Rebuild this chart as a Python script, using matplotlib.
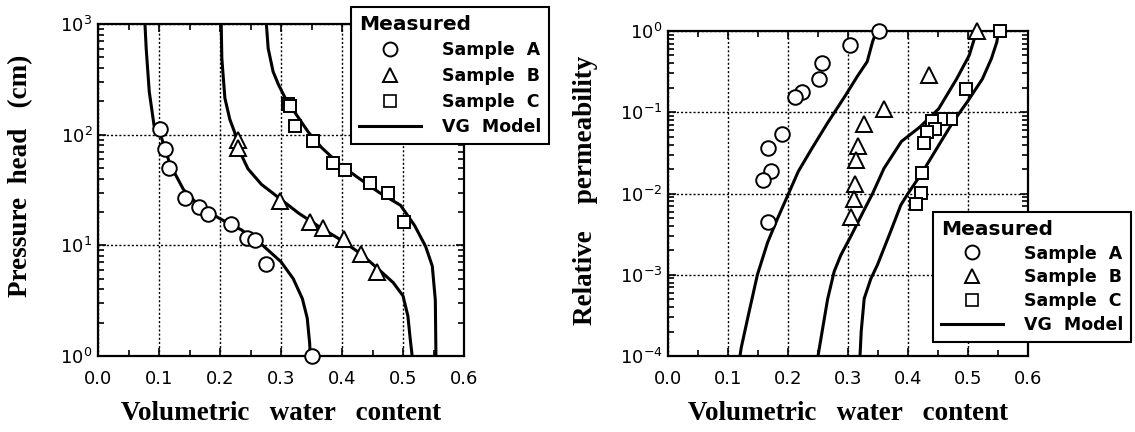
import numpy as np
import matplotlib
matplotlib.use("Agg")
import matplotlib.pyplot as plt
from matplotlib.lines import Line2D
from matplotlib.font_manager import FontProperties
from matplotlib.ticker import MultipleLocator, FormatStrFormatter, LogLocator

plt.rcParams['font.family'] = ['DejaVu Sans']
plt.rcParams['mathtext.default'] = 'regular'

# ---------------- Data: water retention (left) ----------------
ret_theta_A = [0.102, 0.110, 0.116, 0.143, 0.166, 0.181, 0.218, 0.245, 0.258, 0.276, 0.350]
ret_h_A = [112, 74, 50, 27, 22, 19, 15.6, 11.6, 11.1, 6.8, 1.0]
ret_theta_B = [0.229, 0.229, 0.298, 0.347, 0.369, 0.403, 0.431, 0.458]
ret_h_B = [90, 75, 25, 16.4, 14.4, 11.4, 8.4, 5.8]
ret_theta_C = [0.311, 0.315, 0.323, 0.353, 0.386, 0.405, 0.446, 0.475, 0.501]
ret_h_C = [188, 180, 120, 88, 55, 47.5, 36.7, 29.8, 16.2]

vg_ret_theta_A = [0.077, 0.079, 0.084, 0.092, 0.103, 0.118, 0.140, 0.167, 0.200, 0.235,
                  0.270, 0.300, 0.320, 0.335, 0.343, 0.347, 0.348]
vg_ret_h_A = [1000, 600, 245, 120, 98, 54, 32, 22.4, 17.4, 13.8, 10, 7.1, 5.0, 3.3, 2.2, 1.3, 1.0]
vg_ret_theta_B = [0.202, 0.203, 0.208, 0.216, 0.224, 0.232, 0.246, 0.268, 0.296, 0.329,
                  0.362, 0.398, 0.432, 0.461, 0.484, 0.500, 0.508, 0.512, 0.515]
vg_ret_h_B = [1000, 490, 214, 138, 105, 71, 49, 35.5, 27, 19.5, 14.8, 11.2, 8.3, 6.0, 4.6,
              3.5, 2.3, 1.4, 1.0]
vg_ret_theta_C = [0.276, 0.279, 0.287, 0.296, 0.307, 0.323, 0.345, 0.367, 0.396, 0.426,
                  0.461, 0.496, 0.519, 0.537, 0.548, 0.553, 0.554]
vg_ret_h_C = [1000, 600, 372, 282, 214, 158, 105, 76, 54, 41, 30, 23, 15.1, 9.8, 6.5, 3.2, 1.0]

# ---------------- Data: relative permeability (right) ----------------
kr_theta_A = [0.352, 0.303, 0.257, 0.251, 0.224, 0.212, 0.190, 0.167, 0.172, 0.159, 0.166]
kr_A = [1.0, 0.68, 0.40, 0.26, 0.18, 0.153, 0.054, 0.036, 0.019, 0.0148, 0.0045]
kr_theta_B = [0.515, 0.435, 0.360, 0.326, 0.317, 0.314, 0.311, 0.310, 0.305]
kr_B = [1.0, 0.29, 0.11, 0.072, 0.038, 0.026, 0.013, 0.0086, 0.0051]
kr_theta_C = [0.553, 0.496, 0.471, 0.455, 0.440, 0.445, 0.432, 0.426, 0.423, 0.422, 0.413]
kr_C = [1.0, 0.195, 0.082, 0.083, 0.077, 0.062, 0.057, 0.042, 0.018, 0.0101, 0.0075]

vg_kr_theta_A = [0.345, 0.341, 0.332, 0.316, 0.296, 0.266, 0.239, 0.217, 0.201, 0.183,
                 0.166, 0.149, 0.134, 0.122, 0.120]
vg_kr_A = [0.89, 0.74, 0.42, 0.28, 0.162, 0.074, 0.035, 0.0186, 0.010, 0.0050,
           0.0025, 0.0010, 0.00032, 0.000126, 0.0001]
vg_kr_theta_B = [0.250, 0.258, 0.266, 0.277, 0.288, 0.305, 0.327, 0.341, 0.360, 0.389,
                 0.420, 0.451, 0.481, 0.502, 0.512, 0.515]
vg_kr_B = [0.0001, 0.000224, 0.0005, 0.0011, 0.00174, 0.0030, 0.0063, 0.0100, 0.0204,
           0.0437, 0.066, 0.11, 0.257, 0.50, 0.87, 1.0]
vg_kr_theta_C = [0.320, 0.322, 0.327, 0.338, 0.349, 0.371, 0.388, 0.400, 0.423, 0.451,
                 0.475, 0.499, 0.524, 0.539, 0.548, 0.551]
vg_kr_C = [0.0001, 0.0002, 0.00051, 0.00089, 0.00132, 0.0034, 0.0072, 0.010, 0.0178,
           0.039, 0.076, 0.135, 0.257, 0.457, 0.73, 1.0]

x_ticks = [0.0, 0.1, 0.2, 0.3, 0.4, 0.5, 0.6]
legend_labels = ['Sample  A', 'Sample  B', 'Sample  C', 'VG  Model']
legend_title = 'Measured'

# ---------------- Figure ----------------
W, H = 1135, 432
fig = plt.figure(figsize=(W / 100, H / 100), dpi=100)
ax1 = fig.add_axes([98 / W, 1 - 356 / H, 366 / W, 332 / H])
ax2 = fig.add_axes([668 / W, 1 - 356 / H, 360 / W, 325 / H])

mk = dict(ls='none', mfc='white', mec='black', mew=1.4, clip_on=False, zorder=5)
line_kw = dict(color='black', lw=2.2, zorder=4, solid_capstyle='butt', solid_joinstyle='round')

# left
ax1.plot(vg_ret_theta_A, vg_ret_h_A, **line_kw)
ax1.plot(vg_ret_theta_B, vg_ret_h_B, **line_kw)
ax1.plot(vg_ret_theta_C, vg_ret_h_C, **line_kw)
ax1.plot(ret_theta_A, ret_h_A, marker='o', ms=10.5, **mk)
ax1.plot(ret_theta_B, ret_h_B, marker='^', ms=11, **mk)
ax1.plot(ret_theta_C, ret_h_C, marker='s', ms=9, **mk)
ax1.set_yscale('log')
ax1.set_ylim(1, 1000)

# right
ax2.plot(vg_kr_theta_A, vg_kr_A, **line_kw)
ax2.plot(vg_kr_theta_B, vg_kr_B, **line_kw)
ax2.plot(vg_kr_theta_C, vg_kr_C, **line_kw)
ax2.plot(kr_theta_A, kr_A, marker='o', ms=10.5, **mk)
ax2.plot(kr_theta_B, kr_B, marker='^', ms=11, **mk)
ax2.plot(kr_theta_C, kr_C, marker='s', ms=9, **mk)
ax2.set_yscale('log')
ax2.set_ylim(1e-4, 1)

serif_lab = FontProperties(family='Liberation Serif', weight='bold', size=19.5)

for ax in (ax1, ax2):
    ax.set_xlim(0, 0.6)
    ax.set_xticks(x_ticks)
    ax.xaxis.set_major_formatter(FormatStrFormatter('%.1f'))
    ax.xaxis.set_minor_locator(MultipleLocator(0.05))
    ax.yaxis.set_minor_locator(LogLocator(base=10, subs=np.arange(2, 10), numticks=20))
    ax.yaxis.set_major_locator(LogLocator(base=10, numticks=20))
    ax.grid(True, which='major', ls=(0, (1.5, 1.5)), color='black', lw=1.0)
    ax.tick_params(which='both', direction='in', top=True, right=True, width=1.2, colors='black')
    ax.tick_params(which='major', length=6, labelsize=13)
    ax.tick_params(which='minor', length=4)
    ax.tick_params(axis='x', which='major', pad=10)
    ax.tick_params(axis='y', which='major', pad=4)
    for s in ax.spines.values():
        s.set_linewidth(1.6)
    ax.set_axisbelow(True)

ax1.set_xlabel('Volumetric   water   content', fontproperties=serif_lab)
ax1.set_ylabel('Pressure  head   (cm)', fontproperties=serif_lab)
ax2.set_xlabel('Volumetric   water   content', fontproperties=serif_lab)
ax2.set_ylabel('Relative    permeability', fontproperties=serif_lab)

ax1.xaxis.set_label_coords(0.5, (356 - 413) / 332)
ax1.xaxis.label.set_va('center')
ax2.xaxis.set_label_coords(0.5, (356 - 413) / 325)
ax2.xaxis.label.set_va('center')
ax1.yaxis.set_label_coords((21 - 98) / 366, (356 - 176) / 332)
ax1.yaxis.label.set_va('center')
ax2.yaxis.set_label_coords((586 - 668) / 360, (356 - 190) / 325)
ax2.yaxis.label.set_va('center')

# legends
def make_legend(anchor, spacing):
    handles = [
        Line2D([], [], ls='none', marker='o', ms=10, mfc='white', mec='black', mew=1.4),
        Line2D([], [], ls='none', marker='^', ms=10, mfc='white', mec='black', mew=1.4),
        Line2D([], [], ls='none', marker='s', ms=8.5, mfc='white', mec='black', mew=1.2),
        Line2D([], [], color='black', lw=2.2),
    ]
    leg = fig.legend(handles, legend_labels, loc='upper left', bbox_to_anchor=anchor,
                     bbox_transform=fig.transFigure, title=legend_title,
                     title_fontproperties=FontProperties(family='DejaVu Sans', weight='bold', size=14.5),
                     alignment='left', prop=FontProperties(family='DejaVu Sans', weight='bold', size=12.5),
                     frameon=True, fancybox=False, edgecolor='black', facecolor='white',
                     framealpha=1, handlelength=3.6, handletextpad=1.2, labelspacing=spacing,
                     borderpad=0.45, borderaxespad=0, numpoints=1)
    leg.get_frame().set_linewidth(1.5)
    leg.set_zorder(10)
    return leg

make_legend((351 / W, 1 - 7 / H), 0.44)
make_legend((933 / W, 1 - 212 / H), 0.33)

fig.savefig('out.png', dpi=100)
